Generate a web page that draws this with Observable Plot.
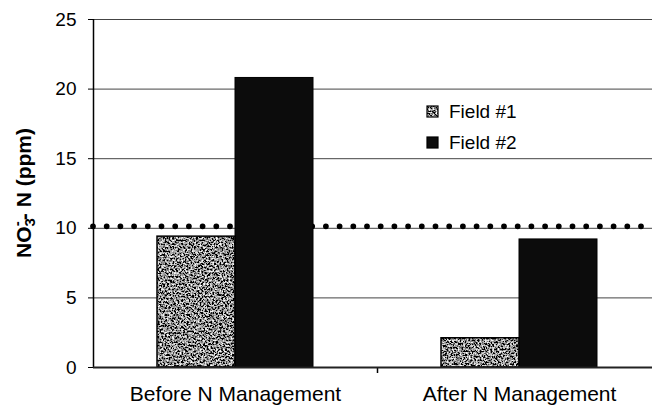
<!DOCTYPE html>
<html>
<head>
<meta charset="utf-8">
<script src="https://cdn.jsdelivr.net/npm/d3@7"></script>
<script src="https://cdn.jsdelivr.net/npm/@observablehq/plot@0.6"></script>
<style>
  html, body { margin: 0; padding: 0; background: #fff; }
  #chart { position: relative; width: 652px; height: 415px; overflow: hidden; }
  svg g[aria-label="x-axis tick label"] text { font-size: 21px; }
</style>
</head>
<body>
<div id="chart"></div>
<script>
// ---- data ----
const groups = ["Before N Management", "After N Management"];
const seriesNames = ["Field #1", "Field #2"];
const field1 = [9.4, 2.1];
const field2 = [20.8, 9.2];
const yTicks = [0, 5, 10, 15, 20, 25];
const threshold = [10];
const yLabelParts = ["NO", "3", "-", "- N (ppm)"];

const data = groups.map((g, i) => ({ group: g, f1: field1[i], f2: field2[i] }));

const font = "'Liberation Sans', Arial, sans-serif";

const chart = Plot.plot({
  width: 652,
  height: 415,
  marginLeft: 93,
  marginRight: 0,
  marginTop: 19,
  marginBottom: 48,
  style: { fontFamily: font, fontSize: "19px", color: "#000", background: "#fff", overflow: "visible" },
  x: { type: "band", domain: groups, range: [93, 661], padding: 0, tickSize: 0, tickPadding: 19, label: null },
  y: { domain: [0, 25], ticks: yTicks, tickSize: 5, tickPadding: 12, label: null },
  marks: [
    Plot.ruleY(yTicks, { stroke: "#444", strokeWidth: 1 }),
    Plot.ruleY(threshold, { stroke: "#000", strokeWidth: 5.8, dy: -2, strokeDasharray: "0 13.7", strokeLinecap: "round" }),
    Plot.barY(data, { x: "group", y: "f1", fill: "#707070", insetLeft: 64, insetRight: 142 }),
    Plot.barY(data, { x: "group", y: "f2", fill: "#0c0c0c", insetLeft: 142, insetRight: 64, stroke: "#000", strokeWidth: 1 }),
    Plot.barY(data, { x: "group", y: "f1", fill: "none", stroke: "#000", strokeWidth: 1.5, insetLeft: 64, insetRight: 142 }),
    Plot.ruleX([groups[0]], { y1: 0, y2: 25, dx: -142, stroke: "#000", strokeWidth: 1.5 }),
    Plot.ruleX([groups[1]], { y1: 0, y2: 0, dx: -142, insetBottom: -6, stroke: "#000", strokeWidth: 1.5 }),
    Plot.ruleY([0], { stroke: "#222", strokeWidth: 1.8 })
  ]
});

document.getElementById("chart").appendChild(chart);

const svg = d3.select(chart);
// speckle texture for Field #1
const defs = svg.insert("defs", ":first-child");
const f = defs.append("filter").attr("id", "grain")
  .attr("filterUnits", "userSpaceOnUse").attr("x", 0).attr("y", 0).attr("width", 652).attr("height", 415);
f.append("feTurbulence").attr("type", "fractalNoise").attr("baseFrequency", 0.55).attr("numOctaves", 3).attr("seed", 7).attr("result", "n");
f.append("feColorMatrix").attr("in", "n").attr("type", "matrix")
  .attr("values", "2.8 0 0 0 -1.12  2.8 0 0 0 -1.12  2.8 0 0 0 -1.12  0 0 0 0 1").attr("result", "g");
f.append("feComposite").attr("in", "g").attr("in2", "SourceGraphic").attr("operator", "in");
const barGroups = svg.selectAll('g[aria-label="bar"]').nodes();
if (barGroups.length) d3.select(barGroups[0]).attr("filter", "url(#grain)");

// y-axis title
const yl = svg.append("text")
  .attr("transform", "translate(31,193) rotate(-90)")
  .attr("text-anchor", "middle")
  .attr("font-family", font)
  .attr("font-weight", "bold")
  .attr("font-size", 21)
  .attr("fill", "#000");
yl.append("tspan").text(yLabelParts[0]);
yl.append("tspan").attr("font-size", 15).attr("dy", 4).text(yLabelParts[1]);
yl.append("tspan").attr("font-size", 15).attr("dx", -8).attr("dy", -13).text(yLabelParts[2]);
yl.append("tspan").attr("dy", 9).attr("dx", 1).text(yLabelParts[3]);

// legend
const leg = svg.append("g").attr("font-family", font).attr("font-size", 19).attr("text-anchor", "start");
seriesNames.forEach((name, i) => {
  const gy = 106 + i * 31;
  const sw = leg.append("g");
  sw.append("rect").attr("x", 427).attr("y", gy).attr("width", 11).attr("height", 11)
    .attr("fill", i === 0 ? "#808080" : "#0c0c0c");
  if (i === 0) sw.attr("filter", "url(#grain)");
  leg.append("rect").attr("x", 427).attr("y", gy).attr("width", 11).attr("height", 11)
    .attr("fill", "none").attr("stroke", "#000").attr("stroke-width", 1.2);
  leg.append("text").attr("x", 449).attr("y", gy + 5.5).attr("dy", "0.35em").attr("fill", "#000").text(name);
});
</script>
</body>
</html>
